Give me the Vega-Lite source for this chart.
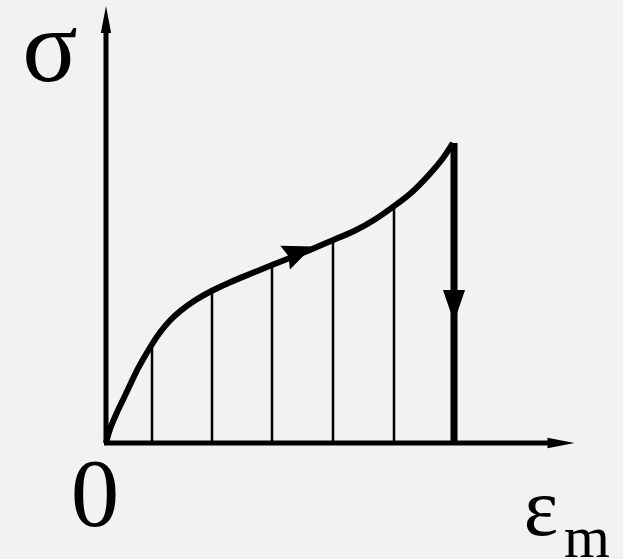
{
  "$schema": "https://vega.github.io/schema/vega-lite/v6.json",
  "width": 623,
  "height": 559,
  "autosize": {"type": "none"},
  "padding": 0,
  "background": "#f2f2f2",
  "config": {"view": {"stroke": null}},
  "datasets": {
    "curve": [
      {"strain": 0, "stress": 0},
      {"strain": 4, "stress": 15},
      {"strain": 11, "stress": 31},
      {"strain": 17, "stress": 43},
      {"strain": 24, "stress": 58},
      {"strain": 31, "stress": 73},
      {"strain": 39, "stress": 87},
      {"strain": 46, "stress": 99},
      {"strain": 54, "stress": 111},
      {"strain": 64, "stress": 123},
      {"strain": 74, "stress": 132},
      {"strain": 89, "stress": 143},
      {"strain": 105, "stress": 152},
      {"strain": 124, "stress": 161},
      {"strain": 144, "stress": 169},
      {"strain": 166, "stress": 178},
      {"strain": 184, "stress": 185},
      {"strain": 204, "stress": 193},
      {"strain": 227, "stress": 203},
      {"strain": 249, "stress": 212},
      {"strain": 269, "stress": 223},
      {"strain": 288, "stress": 237},
      {"strain": 304, "stress": 248},
      {"strain": 324, "stress": 269},
      {"strain": 337, "stress": 284},
      {"strain": 347, "stress": 300}
    ],
    "hatch": [
      {"strain": 46, "stress": 99},
      {"strain": 106, "stress": 152},
      {"strain": 166, "stress": 178},
      {"strain": 227, "stress": 203},
      {"strain": 288, "stress": 237}
    ],
    "axes": [
      {"x0": 0, "y0": 0, "x1": 0, "y1": 415},
      {"x0": -2, "y0": 0, "x1": 446, "y1": 0}
    ],
    "drop": [{"x0": 348, "y0": 300, "x1": 348, "y1": 0}],
    "axisHeads": [
      {"strain": 0, "stress": 423.5, "dir": 0},
      {"strain": 455, "stress": 0, "dir": 90}
    ],
    "curveHead": [{"strain": 193, "stress": 191, "dir": 68}],
    "dropHead": [{"strain": 348, "stress": 137, "dir": 180}],
    "sigmaLabel": [{"strain": -56, "stress": 362, "label": "σ"}],
    "zeroLabel": [{"strain": -11, "stress": -83, "label": "0"}],
    "epsLabel": [{"strain": 435, "stress": -92, "label": "ε"}],
    "subLabel": [{"strain": 481, "stress": -114, "label": "m"}]
  },
  "encoding": {
    "x": {"field": "strain", "type": "quantitative", "axis": null,
          "scale": {"domain": [-106, 517], "nice": false, "zero": false}},
    "y": {"field": "stress", "type": "quantitative", "axis": null,
          "scale": {"domain": [-116, 443], "nice": false, "zero": false}}
  },
  "layer": [
    {
      "data": {"name": "hatch"},
      "mark": {"type": "rule", "color": "black", "strokeWidth": 2.5},
      "encoding": {"y2": {"datum": 0}}
    },
    {
      "data": {"name": "axes"},
      "mark": {"type": "rule", "color": "black", "strokeWidth": 5},
      "encoding": {
        "x": {"field": "x0", "type": "quantitative"},
        "y": {"field": "y0", "type": "quantitative"},
        "x2": {"field": "x1"},
        "y2": {"field": "y1"}
      }
    },
    {
      "data": {"name": "drop"},
      "mark": {"type": "rule", "color": "black", "strokeWidth": 7},
      "encoding": {
        "x": {"field": "x0", "type": "quantitative"},
        "y": {"field": "y0", "type": "quantitative"},
        "x2": {"field": "x1"},
        "y2": {"field": "y1"}
      }
    },
    {
      "data": {"name": "curve"},
      "mark": {"type": "line", "color": "black", "strokeWidth": 6, "interpolate": "basis", "strokeCap": "butt"},
      "encoding": {}
    },
    {
      "data": {"name": "axisHeads"},
      "mark": {"type": "point", "shape": "M0,-1L0.38,1L-0.38,1Z", "filled": true, "color": "black", "opacity": 1, "size": 729, "strokeWidth": 0},
      "encoding": {"angle": {"field": "dir", "type": "quantitative", "scale": null}}
    },
    {
      "data": {"name": "curveHead"},
      "mark": {"type": "point", "shape": "M0,-1L0.85,1L0,0.75L-0.85,1Z", "filled": true, "color": "black", "opacity": 1, "size": 900, "strokeWidth": 0},
      "encoding": {"angle": {"field": "dir", "type": "quantitative", "scale": null}}
    },
    {
      "data": {"name": "dropHead"},
      "mark": {"type": "point", "shape": "M0,-1L0.69,1L-0.69,1Z", "filled": true, "color": "black", "opacity": 1, "size": 1024, "strokeWidth": 0},
      "encoding": {"angle": {"field": "dir", "type": "quantitative", "scale": null}}
    },
    {
      "data": {"name": "sigmaLabel"},
      "mark": {"type": "text", "font": "Liberation Serif", "fontSize": 103, "baseline": "alphabetic", "align": "center", "color": "black"},
      "encoding": {"text": {"field": "label"}}
    },
    {
      "data": {"name": "zeroLabel"},
      "mark": {"type": "text", "font": "Liberation Serif", "fontSize": 97, "baseline": "alphabetic", "align": "center", "color": "black"},
      "encoding": {"text": {"field": "label"}}
    },
    {
      "data": {"name": "epsLabel"},
      "mark": {"type": "text", "font": "Liberation Serif", "fontSize": 82, "baseline": "alphabetic", "align": "center", "color": "black"},
      "encoding": {"text": {"field": "label"}}
    },
    {
      "data": {"name": "subLabel"},
      "mark": {"type": "text", "font": "Liberation Serif", "fontSize": 59, "baseline": "alphabetic", "align": "center", "color": "black"},
      "encoding": {"text": {"field": "label"}}
    }
  ]
}
